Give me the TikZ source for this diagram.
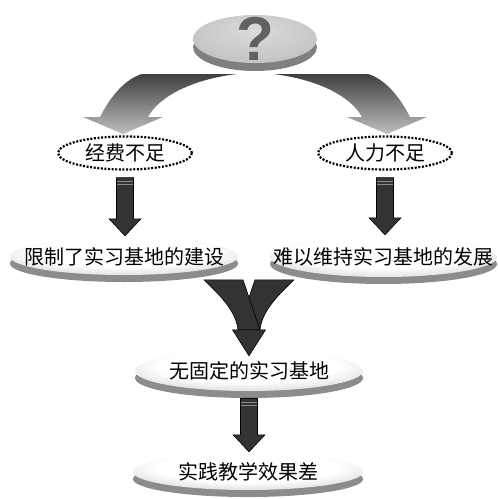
\documentclass[tikz,border=0pt]{standalone}
\usepackage{fontspec}
\newfontfamily\cjk{Noto Sans CJK SC}
\newfontfamily\qfont{Liberation Sans}
\usetikzlibrary{shapes.geometric,shadows,calc}
\pgfdeclareradialshading{discface}{\pgfpoint{0bp}{10bp}}{color(0bp)=(white); color(20bp)=(white); color(50bp)=(black!38)}
\pgfdeclareradialshading{qface}{\pgfpoint{0bp}{10bp}}{color(0bp)=(black!14); color(50bp)=(black!30)}
\tikzset{
  disc/.style={ellipse, inner sep=0pt, shading=discface, font=\cjk\fontsize{20}{20}\selectfont,
    drop shadow={shadow xshift=0pt, shadow yshift=-7pt, fill=black!45, opacity=1}},
  ring/.style={ellipse, draw, inner sep=0pt, line width=2.2pt, dash pattern=on 2pt off 1.6pt,
    minimum width=134pt, minimum height=33pt, font=\cjk\fontsize{20}{20}\selectfont},
  darrow/.style={fill=black!80, draw=black, line width=.6pt},
  barrow/.style={top color=black!75, bottom color=black!25},
  stripe/.style={draw=black!45, line width=.8pt}
}
\begin{document}
\begin{tikzpicture}[x=1pt,y=-1pt]
\useasboundingbox (0,0) rectangle (498,499);
% question disc
\node[ellipse, minimum width=124pt, minimum height=48pt, inner sep=0pt, shading=qface,
  drop shadow={shadow xshift=0pt, shadow yshift=-8pt, fill=black!50, opacity=1}] (q) at (255,39) {};
\node[font=\qfont\bfseries\fontsize{62}{62}\selectfont, text=black!62, inner sep=0pt] (qm) at (q.center) {?};
% causes and results
\node[ring] (r1) at (125,153) {经费不足};
\node[ring] (r2) at (385,153) {人力不足};
\node[disc, minimum width=228pt, minimum height=37pt] (d1) at (124,256.5) {\makebox[0pt]{限制了实习基地的建设}};
\node[disc, minimum width=227pt, minimum height=40pt] (d2) at (383.5,257) {\makebox[0pt]{难以维持实习基地的发展}};
\node[disc, minimum width=228pt, minimum height=40pt] (m) at (249,371) {\makebox[0pt]{无固定的实习基地}};
\node[disc, minimum width=230pt, minimum height=36pt] (e) at (248,472) {\makebox[0pt]{实践教学效果差}};
% bent arrows
\begin{scope}[shift={(q.center)}]
\foreach \s in {1,-1}
  \shade[barrow,xscale=\s] (-113,35) -- (-18,35) .. controls (-60,40) and (-95,56) .. (-107,78) -- (-92,78)
    -- (-132,95) -- (-172,78) -- (-155,78) .. controls (-145,58) and (-130,40) .. (-113,35) -- cycle;
\end{scope}
% straight arrows
\foreach \a/\b in {r1/d1,r2/d2,m/e}{
  \draw[darrow] let \p1=(\a.south), \p2=(\b.north) in
    (\x1-8.5pt,\y1-7pt) -- (\x1+8.5pt,\y1-7pt) -- (\x1+8.5pt,\y2+19pt) -- (\x1+16pt,\y2+19pt)
    -- (\x1,\y2+2pt) -- (\x1-16pt,\y2+19pt) -- (\x1-8.5pt,\y2+19pt) -- cycle;
  \draw[stripe] let \p1=(\a.south) in
    (\x1-8pt,\y1-11pt) -- (\x1+8pt,\y1-11pt) (\x1-8pt,\y1-14pt) -- (\x1+8pt,\y1-14pt);
}
% merging arrow
\begin{scope}[shift={(m.north)}]
\foreach \s in {-1,1}
  \draw[darrow,xscale=\s] (-45,-71) -- (-6,-71) -- (11,-21) -- (-11,-21)
    .. controls (-13,-38) and (-25,-52) .. (-45,-71) -- cycle;
\draw[darrow] (-16.5,-21) -- (16.5,-21) -- (0,5) -- cycle;
\end{scope}
\end{tikzpicture}
\end{document}
